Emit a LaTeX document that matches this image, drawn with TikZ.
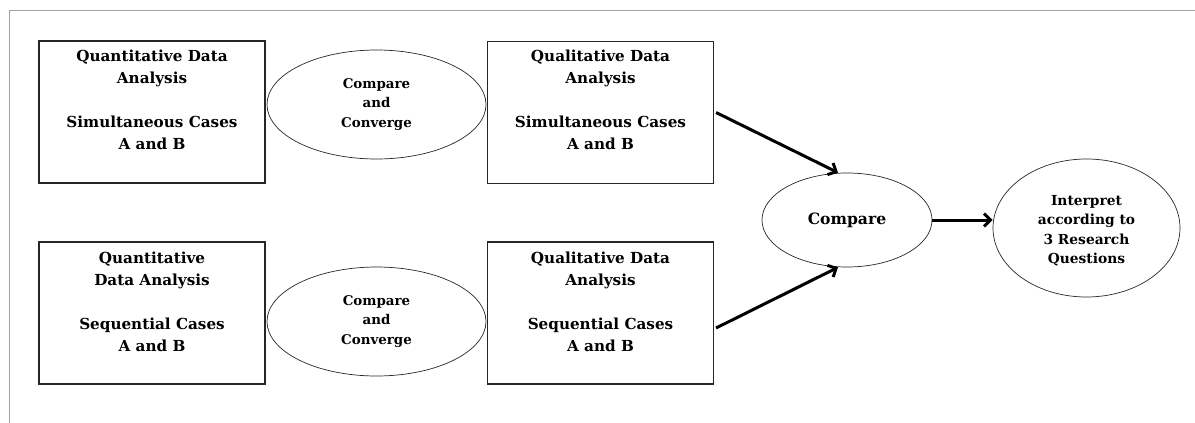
\documentclass[tikz,border=0pt]{standalone}
\usepackage{fontspec}
\setmainfont{DejaVu Serif}
\usetikzlibrary{shapes.geometric,arrows.meta}
\definecolor{framegray}{HTML}{A0A0A0}
\begin{document}
\begin{tikzpicture}[x=1pt,y=-1pt,
  boxnode/.style={draw=black!85,line width=1.1pt,minimum width=226pt,minimum height=142pt,inner sep=0pt},
  boxtext/.style={align=center,font=\fontsize{15.2}{22}\selectfont\bfseries,inner sep=0pt},
  ovalnode/.style={draw=black!85,line width=0.7pt,ellipse,inner sep=0pt,align=center,
    font=\fontsize{13.4}{19.5}\selectfont\bfseries},
  arr/.style={line width=3pt,-{Straight Barb[length=6.5pt,width=13pt]}}]
\useasboundingbox (0,0) rectangle (1195,423);
% outer frame (top and left edges only)
\draw[framegray,line width=1.5pt] (9.5,423) -- (9.5,10.5) -- (1195,10.5);

% analysis boxes
\node[boxnode] (qns) at (152,112) {};
\node[boxnode] (qls) at (600.5,112.5) {};
\node[boxnode] (qnq) at (152,313) {};
\node[boxnode] (qlq) at (600.5,313) {};

\node[boxtext] (qnst) at (152,100) {Quantitative Data\\Analysis\\[22pt]Simultaneous Cases\\A and B};
\node[boxtext] (qlst) at (600.5,100) {Qualitative Data\\Analysis\\[22pt]Simultaneous Cases\\A and B};
\node[boxtext] (qnqt) at (152,301.5) {Quantitative\\Data Analysis\\[22pt]Sequential Cases\\A and B};
\node[boxtext] (qlqt) at (600.5,301.5) {Qualitative Data\\Analysis\\[22pt]Sequential Cases\\A and B};

% compare-and-converge ovals
\node[ovalnode,minimum width=219pt,minimum height=109pt] (ccs) at (376.5,104.5) {Compare\\and\\Converge};
\node[ovalnode,minimum width=219pt,minimum height=109pt] (ccq) at (376.5,321.5) {Compare\\and\\Converge};

% final stages
\node[ovalnode,minimum width=170pt,minimum height=94pt,font=\fontsize{15.6}{19.5}\selectfont\bfseries] (cmp) at (847,220) {Compare};
\node[ovalnode,minimum width=187pt,minimum height=138pt] (int) at (1086.5,228) {};
\node[align=center,inner sep=0pt,font=\fontsize{13.8}{19.5}\selectfont\bfseries] (intt) at (1086.5,230.5)
  {Interpret\\according to\\3 Research\\Questions};

\draw[arr] ([xshift=2pt]qls.east) -- ([xshift=-9pt]cmp.north);
\draw[arr] ([xshift=2pt,yshift=-15pt]qlq.east) -- ([xshift=-9pt]cmp.south);
\draw[arr] (cmp.east) -- (cmp.east -| int.west);
\end{tikzpicture}
\end{document}
